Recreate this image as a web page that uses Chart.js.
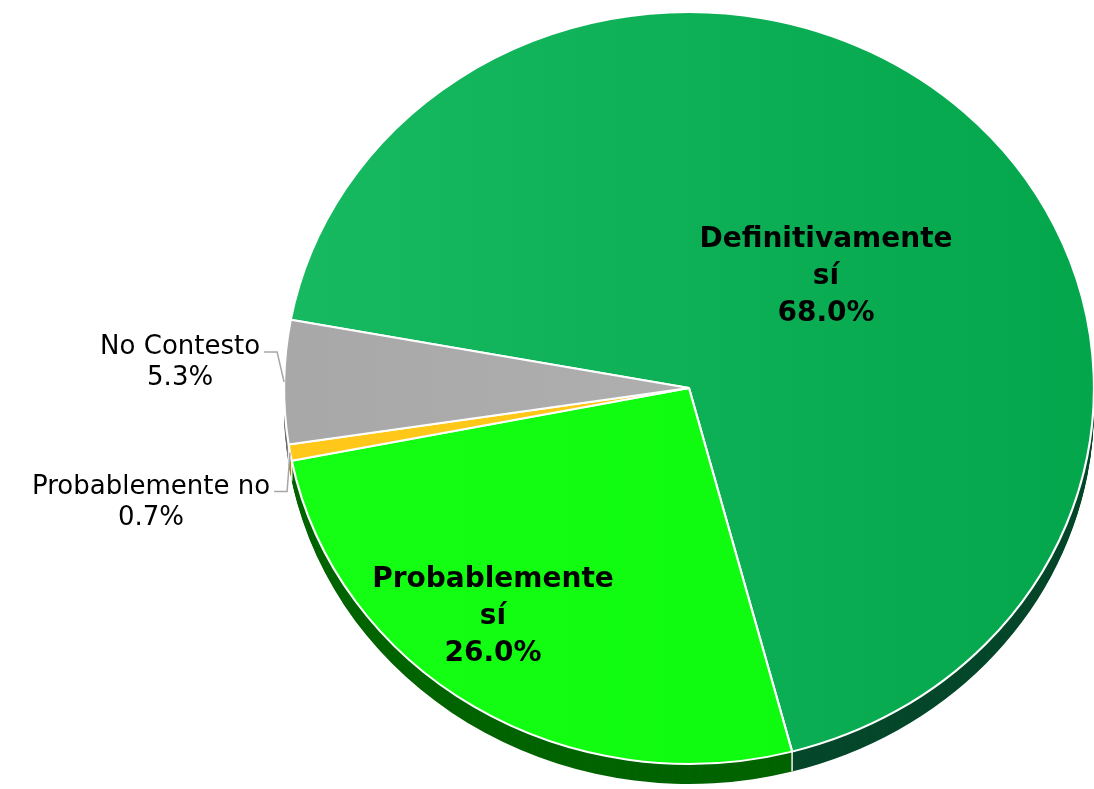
<!DOCTYPE html>
<html>
<head>
<meta charset="utf-8">
<script src="https://cdn.jsdelivr.net/npm/chart.js@4"></script>
<style>
html,body{margin:0;padding:0;background:#fff;overflow:hidden}
</style>
</head>
<body>
<canvas id="grafico" width="1094" height="789"></canvas>
<script>
//// DATOS
var categorias = ['Definitivamente sí', 'Probablemente sí', 'Probablemente no', 'No Contesto'];
var porcentajes = [68.0, 26.0, 0.7, 5.3];

//// COLORES (cara superior izquierda/derecha y lado 3D)
var colores_claros = ['#17ba60', '#14ff14', '#ffc81a', '#a8a8a8'];
var colores_oscuros = ['#04a64c', '#0cf80c', '#ffc514', '#b5b5b5'];
var colores_lado = ['#05472a', '#006400', '#9a7700', '#6e6e6e'];

var ESCALA_X = 1.077;   // el pastel se ve como elipse
var PROFUNDIDAD = 20;   // grosor del lado 3D

// etiquetas dentro del pastel (centro x, linea base de la primera linea)
var etiquetas_dentro = { 0: {x: 826, y: 247}, 1: {x: 493, y: 587} };
// etiquetas fuera con linea guia (desplazamiento del codo desde el borde)
var etiquetas_fuera = { 2: {dx: -3, dy: 39}, 3: {dx: -7, dy: -30} };

function gradiente(context) {
	var i = context.dataIndex;
	var area = context.chart.chartArea;
	if (!area) return colores_claros[i];
	var g = context.chart.ctx.createLinearGradient(area.left, 0, area.right, 0);
	g.addColorStop(0, colores_claros[i]);
	g.addColorStop(1, colores_oscuros[i]);
	return g;
}

var pastel3d = {
	id: 'pastel3d',
	beforeDatasetsDraw: function (chart) {
		var c = chart.ctx;
		var arcos = chart.getDatasetMeta(0).data;
		var cx = arcos[0].x, cy = arcos[0].y;
		c.save();
		c.translate(cx, cy);
		c.scale(ESCALA_X, 1);
		c.translate(-cx, -cy);
		// lado del pastel
		for (var d = PROFUNDIDAD; d >= 1; d--) {
			arcos.forEach(function (a, i) {
				c.beginPath();
				c.moveTo(a.x, a.y + d);
				c.arc(a.x, a.y + d, a.outerRadius, a.startAngle, a.endAngle);
				c.closePath();
				c.fillStyle = colores_lado[i];
				c.fill();
			});
		}
		// uniones blancas entre los lados
		arcos.forEach(function (a) {
			if (Math.sin(a.startAngle) > 0) {
				var px = a.x + a.outerRadius * Math.cos(a.startAngle);
				var py = a.y + a.outerRadius * Math.sin(a.startAngle);
				c.beginPath();
				c.moveTo(px, py);
				c.lineTo(px, py + PROFUNDIDAD);
				c.strokeStyle = '#e8e8e8';
				c.lineWidth = 1.5;
				c.stroke();
			}
		});
	},
	afterDatasetsDraw: function (chart) {
		var c = chart.ctx;
		c.restore();
		var arcos = chart.getDatasetMeta(0).data;
		c.save();
		c.fillStyle = '#000';
		c.textBaseline = 'alphabetic';
		arcos.forEach(function (a, i) {
			var texto_valor = porcentajes[i].toFixed(1) + '%';
			if (etiquetas_dentro[i]) {
				var e = etiquetas_dentro[i];
				var lineas = categorias[i].split(' ').concat([texto_valor]);
				c.font = 'bold 28px "DejaVu Sans"';
				c.textAlign = 'center';
				lineas.forEach(function (l, k) {
					c.fillText(l, e.x, e.y + k * 37);
				});
			} else if (etiquetas_fuera[i]) {
				var f = etiquetas_fuera[i];
				var medio = (a.startAngle + a.endAngle) / 2;
				var ax = a.x + ESCALA_X * a.outerRadius * Math.cos(medio);
				var ay = a.y + a.outerRadius * Math.sin(medio);
				var codo_x = ax + f.dx, codo_y = ay + f.dy;
				var fin_x = codo_x - 13;
				c.beginPath();
				c.moveTo(ax, ay);
				c.lineTo(codo_x, codo_y);
				c.lineTo(fin_x, codo_y);
				c.strokeStyle = '#a6a6a6';
				c.lineWidth = 1.5;
				c.stroke();
				c.font = '26px "DejaVu Sans"';
				c.textAlign = 'center';
				var lineas2 = [categorias[i], texto_valor];
				var ancho = Math.max(c.measureText(lineas2[0]).width, c.measureText(lineas2[1]).width);
				var centro = fin_x - 4 - ancho / 2;
				lineas2.forEach(function (l, k) {
					c.fillText(l, centro, codo_y + 2 + k * 31);
				});
			}
		});
		c.restore();
	}
};

var grafico = new Chart(document.getElementById('grafico').getContext('2d'), {
	type: 'pie',
	data: {
		labels: categorias,
		datasets: [{
			data: porcentajes,
			backgroundColor: gradiente,
			borderColor: '#ffffff',
			borderWidth: 2,
			hoverOffset: 0
		}]
	},
	options: {
		responsive: false,
		animation: false,
		events: [],
		rotation: -79.55,
		layout: { padding: { left: 312, right: 28, top: 11, bottom: 24 } },
		plugins: {
			legend: { display: false },
			tooltip: { enabled: false }
		}
	},
	plugins: [pastel3d]
});
</script>
</body>
</html>
